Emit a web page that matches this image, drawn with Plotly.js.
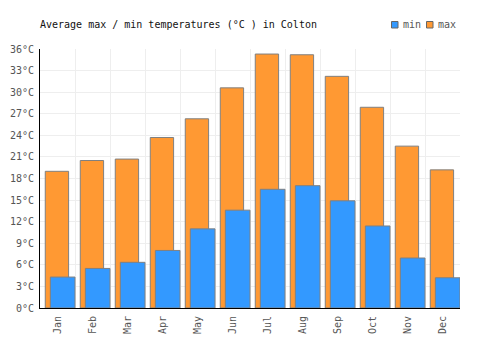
<!DOCTYPE html>
<html>
<head>
<meta charset="utf-8">
<script src="https://cdn.plot.ly/plotly-3.0.1.min.js"></script>
<style>html,body{margin:0;padding:0;background:#fff;}#chart{width:500px;height:350px;}</style>
</head>
<body>
<div id="chart"></div>
<script>
var months = ["Jan","Feb","Mar","Apr","May","Jun","Jul","Aug","Sep","Oct","Nov","Dec"];
var maxTemps = [19.0, 20.5, 20.7, 23.7, 26.3, 30.6, 35.3, 35.2, 32.2, 27.9, 22.5, 19.2];
var minTemps = [4.3, 5.5, 6.35, 8.0, 11.0, 13.6, 16.5, 17.0, 14.9, 11.4, 6.95, 4.2];
var yTicks = [0,3,6,9,12,15,18,21,24,27,30,33,36];
var seriesNames = ["min", "max"];
var seriesColors = ["#3399FF", "#FF9933"];

var idx = months.map(function(_, i){ return i; });
var font = "DejaVu Sans Mono, monospace";

var traces = [
  {type:"bar", name:"max", x:idx, y:maxTemps, offset:-0.35, width:0.667,
   marker:{color:seriesColors[1], line:{color:"#808080", width:1}}, hoverinfo:"y"},
  {type:"bar", name:"min", x:idx, y:minTemps, offset:-0.205, width:0.705,
   marker:{color:seriesColors[0], line:{color:"#808080", width:1}}, hoverinfo:"y"},
  {type:"scatter", x:[-0.5, 11.5], y:[0,0], xaxis:"x2", mode:"none", showlegend:false, hoverinfo:"skip"}
];

var gridVals = [];
for (var i = 0; i <= months.length; i++) gridVals.push(i - 0.5);

// manual legend (pixel positions converted to paper coords)
function px(x){ return (x - 40) / 420; }
function py(y){ return (308 - y) / 259; }
var legendSquares = [391.5, 426.5];
var shapes = [], annotations = [];
seriesNames.forEach(function(n, k){
  var x0 = legendSquares[k];
  shapes.push({type:"rect", xref:"paper", yref:"paper", x0:px(x0), x1:px(x0+6.5), y0:py(28), y1:py(21.5),
               fillcolor:seriesColors[k], line:{color:"#666", width:1}});
  annotations.push({xref:"paper", yref:"paper", x:px(x0+9.5), y:py(25), xanchor:"left", yanchor:"middle",
                    text:n, showarrow:false, font:{family:font, size:10, color:"#555"}});
});

var layout = {
  width:500, height:350,
  margin:{l:40, r:40, t:49, b:42},
  paper_bgcolor:"#fff", plot_bgcolor:"#fff",
  barmode:"overlay",
  font:{family:font, size:10, color:"#555"},
  title:{text:"Average max / min temperatures (°C ) in Colton", x:0.08, xanchor:"left", xref:"container",
         y:0.929, yanchor:"middle", yref:"container", font:{family:font, size:10, color:"#111"}},
  showlegend:false,
  shapes:shapes,
  annotations:annotations,
  xaxis:{type:"linear", range:[-0.5, 11.5], tickvals:idx, ticktext:months, tickangle:-90,
         showgrid:false, zeroline:false, showline:true, linecolor:"#000", linewidth:1,
         ticks:"outside", ticklen:3, tickcolor:"rgba(0,0,0,0)",
         tickfont:{family:font, size:10, color:"#555"}, fixedrange:true},
  xaxis2:{type:"linear", range:[-0.5, 11.5], overlaying:"x", tickvals:gridVals, showticklabels:false,
          showgrid:true, gridcolor:"#eeeeee", gridwidth:1, zeroline:false, ticks:""},
  yaxis:{range:[0, 36], tickvals:yTicks, ticktext:yTicks.map(function(v){return v+"°C";}),
         showgrid:true, gridcolor:"#eeeeee", gridwidth:1, zeroline:false,
         showline:true, linecolor:"#000", linewidth:1,
         ticks:"outside", ticklen:3, tickcolor:"rgba(0,0,0,0)",
         tickfont:{family:font, size:10, color:"#555"}, fixedrange:true}
};

Plotly.newPlot("chart", traces, layout, {displayModeBar:false, staticPlot:true});
</script>
</body>
</html>
